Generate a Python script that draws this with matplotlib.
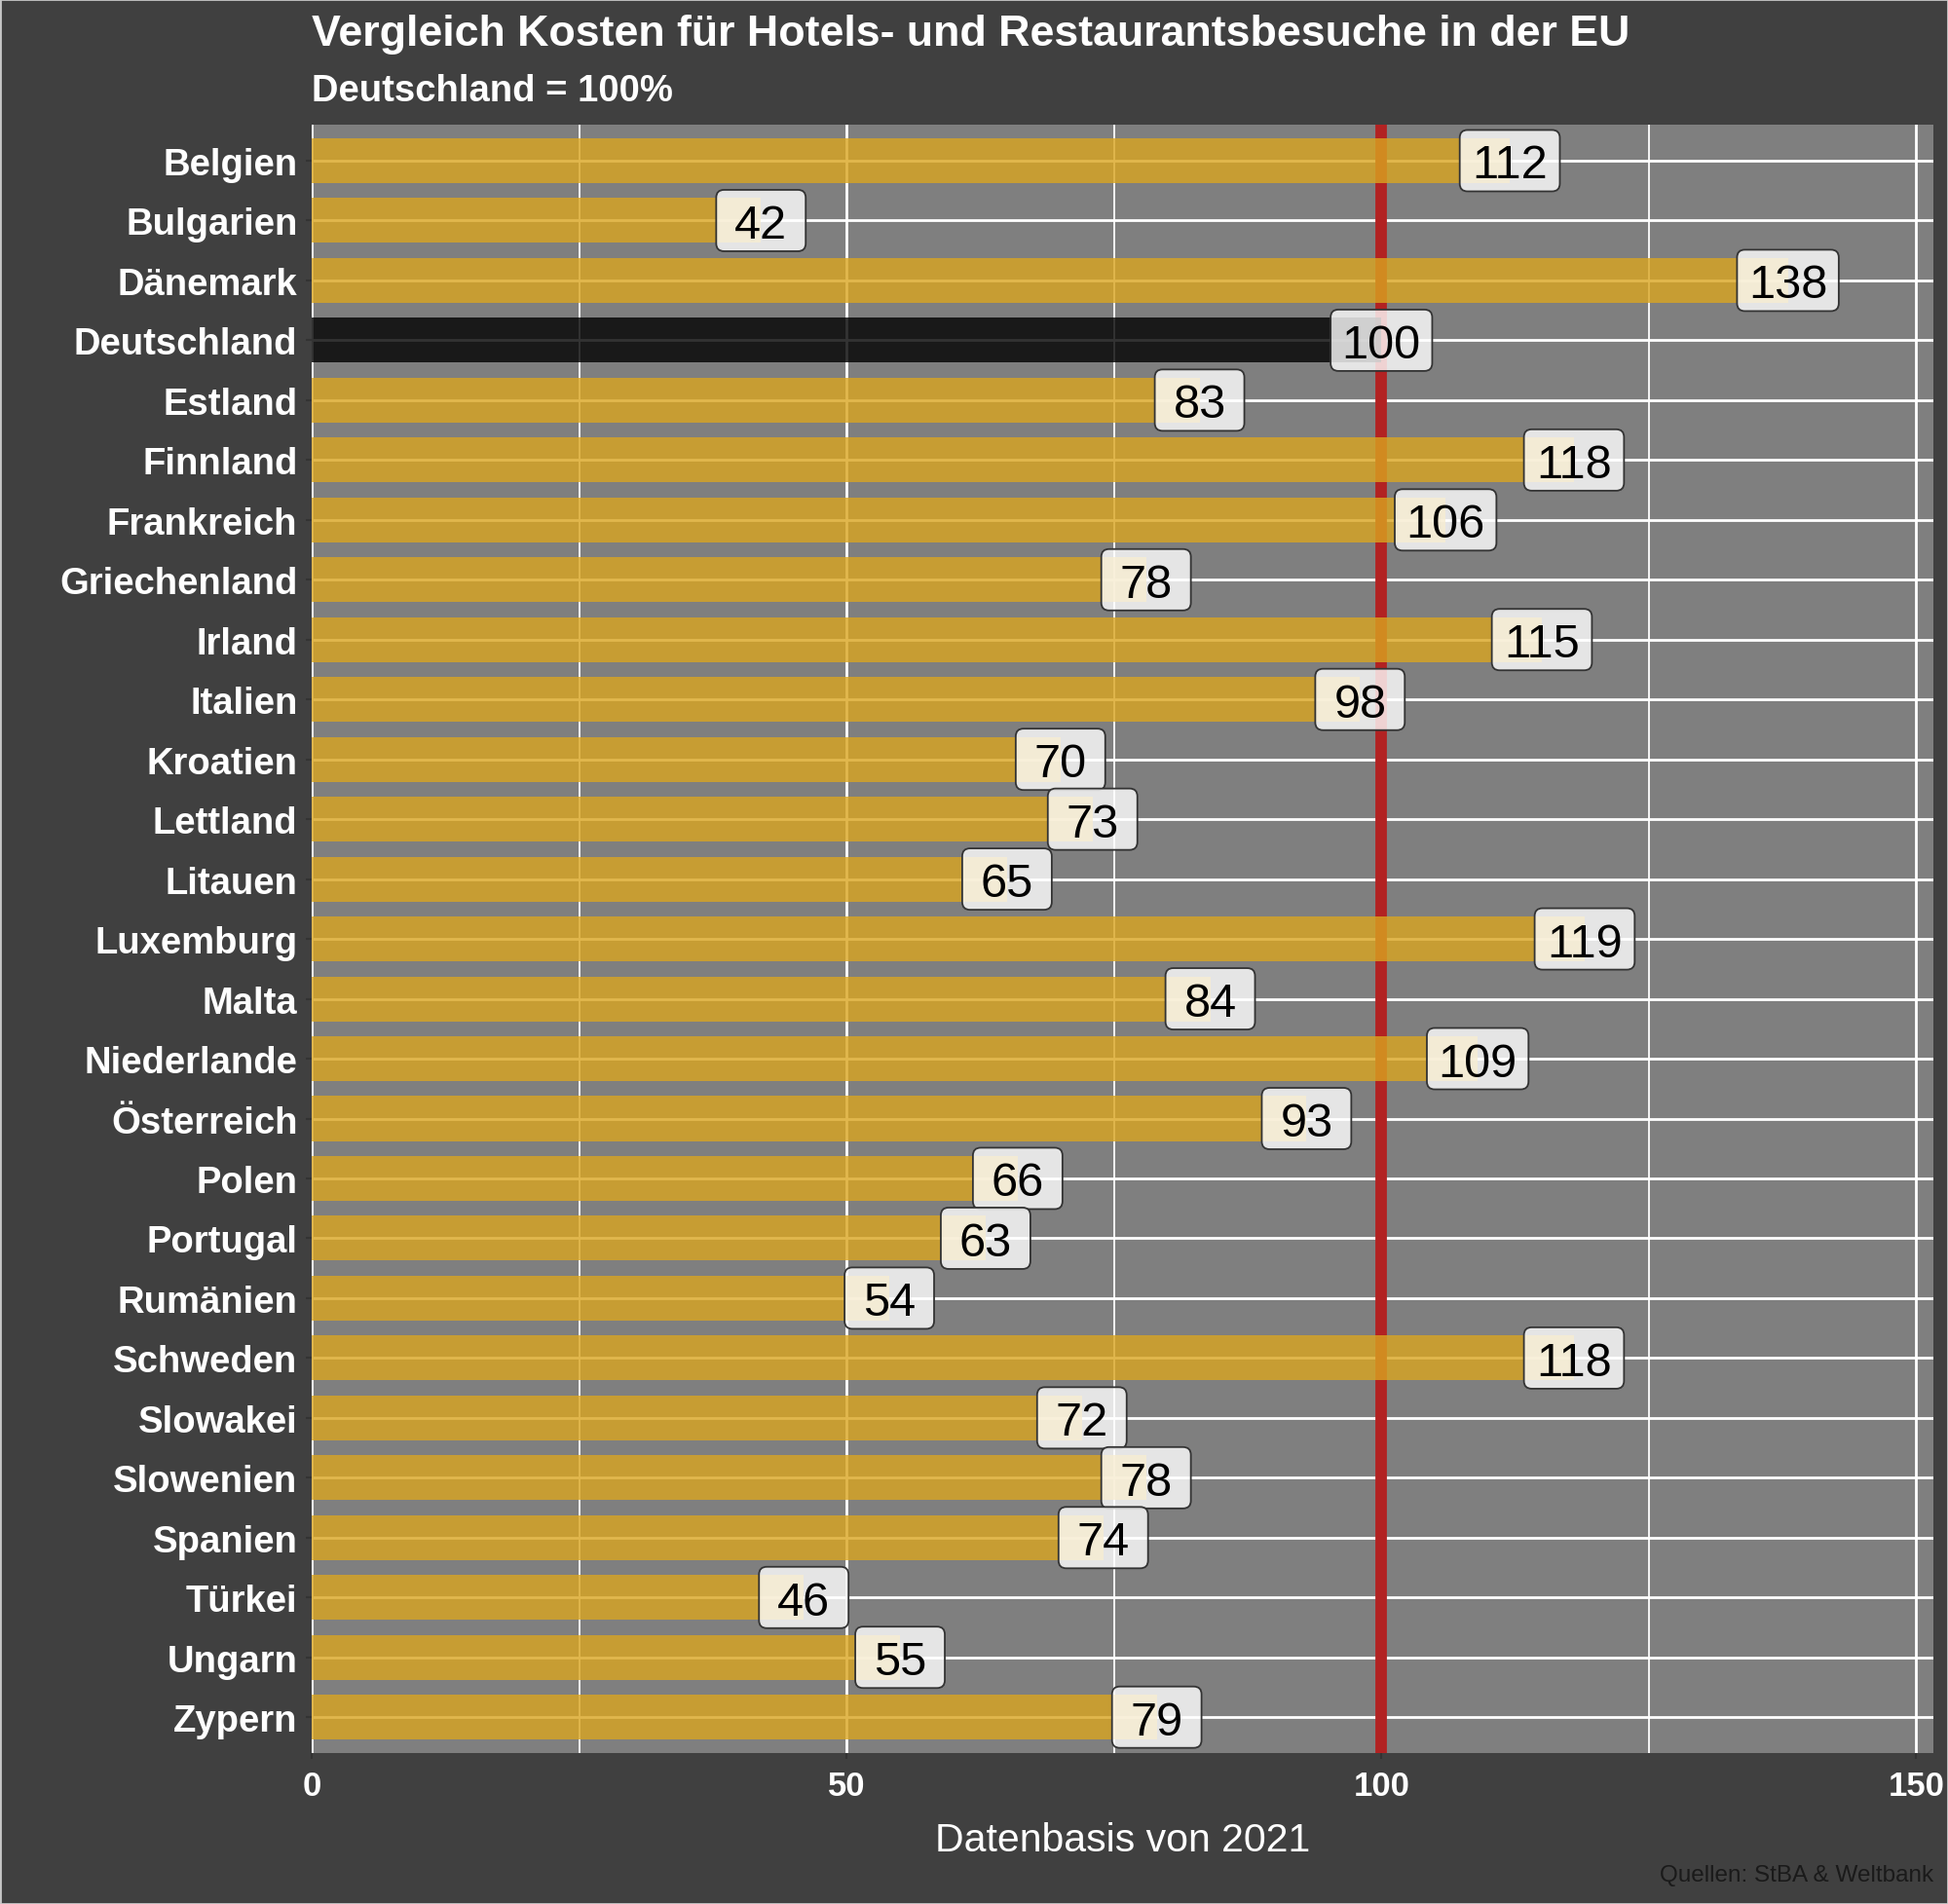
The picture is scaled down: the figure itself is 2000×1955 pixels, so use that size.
# Vergleich Kosten fuer Hotels- und Restaurantsbesuche in der EU
import matplotlib
matplotlib.use('Agg')
import matplotlib.pyplot as plt
import matplotlib.transforms as mtransforms
from matplotlib.patches import FancyBboxPatch, Rectangle

plt.rcParams['font.family'] = ['Liberation Sans', 'DejaVu Sans']

laender = ['Belgien', 'Bulgarien', 'Dänemark', 'Deutschland', 'Estland', 'Finnland',
           'Frankreich', 'Griechenland', 'Irland', 'Italien', 'Kroatien', 'Lettland',
           'Litauen', 'Luxemburg', 'Malta', 'Niederlande', 'Österreich', 'Polen',
           'Portugal', 'Rumänien', 'Schweden', 'Slowakei', 'Slowenien', 'Spanien',
           'Türkei', 'Ungarn', 'Zypern']
werte = [112, 42, 138, 100, 83, 118, 106, 78, 115, 98, 70, 73, 65, 119, 84, 109,
         93, 66, 63, 54, 118, 72, 78, 74, 46, 55, 79]
referenz = 'Deutschland'
x_ticks = [0, 50, 100, 150]
x_minor = [25, 75, 125]

bg = '#404040'
panel = '#7f7f7f'

fig = plt.figure(figsize=(20, 19.56), dpi=100, facecolor=bg)
ax = fig.add_axes([0.16, 0.0792, 0.8325, 0.8548])
ax.set_facecolor(panel)

pos = list(range(len(laender)))
farben = ['black' if l == referenz else 'goldenrod' for l in laender]

# gitter unter allem
ax.set_axisbelow(True)
ax.set_xticks(x_ticks)
ax.set_xticks(x_minor, minor=True)
ax.set_yticks(pos)
ax.set_yticklabels(laender)
ax.grid(True, which='major', color='white', linewidth=2.0)
ax.grid(True, which='minor', axis='x', color='white', linewidth=1.3)

ax.axvline(100, color='#b22222', linewidth=8.5, zorder=1)
ax.barh(pos, werte, height=0.75, color=farben, alpha=0.8, zorder=2)

ax.set_xlim(0, 151.6)
ax.set_ylim(len(laender) - 0.4, -0.6)

for s in ax.spines.values():
    s.set_visible(False)

ax.tick_params(axis='both', which='major', color='#333333', length=4.5, width=1.5)
ax.tick_params(axis='x', which='minor', length=0)
ax.tick_params(axis='y', labelsize=27.5, labelcolor='white', pad=6)
ax.tick_params(axis='x', labelsize=25, labelcolor='white', pad=8)
for t in ax.get_yticklabels() + ax.get_xticklabels():
    t.set_fontweight('bold')

ax.set_xlabel('Datenbasis von 2021', fontsize=29.5, color='white', labelpad=14)

# wert-labels mit runden kaesten
fs = 35
fig.canvas.draw()
renderer = fig.canvas.get_renderer()
for i, v in zip(pos, werte):
    trans = mtransforms.offset_copy(ax.transData, fig=fig, y=-0.36 * fs, units='points')
    txt = ax.text(v, i, str(v), ha='center', va='baseline', fontsize=fs,
                  color='black', transform=trans, zorder=4)
    tw = txt.get_window_extent(renderer).width
    w = (0.46 * tw + 67) / fig.dpi
    h = 63 / fig.dpi
    box_trans = fig.dpi_scale_trans + mtransforms.ScaledTranslation(v, i, ax.transData)
    box = FancyBboxPatch((-w / 2, -h / 2), w, h,
                         boxstyle='round,pad=0,rounding_size=0.08',
                         facecolor=(1, 1, 1, 0.8), edgecolor='#333333',
                         linewidth=1.3, transform=box_trans, zorder=3)
    ax.add_patch(box)

fig.text(0.16, 1 - 36 / 1956, 'Vergleich Kosten für Hotels- und Restaurantsbesuche in der EU',
         fontsize=32.2, fontweight='bold', color='white', ha='left', va='center')
fig.text(0.16, 1 - 94 / 1956, 'Deutschland = 100%',
         fontsize=27.5, fontweight='bold', color='white', ha='left', va='center')
fig.text(0.9925, 1 - 1926 / 1956, 'Quellen: StBA & Weltbank',
         fontsize=17.5, color='#1a1a1a', ha='right', va='center')

fig.patches.append(Rectangle((0, 0), 1, 1, transform=fig.transFigure, fill=False,
                             edgecolor='#c8c8c8', linewidth=2))

fig.savefig('out.png', dpi=100, facecolor=bg)
